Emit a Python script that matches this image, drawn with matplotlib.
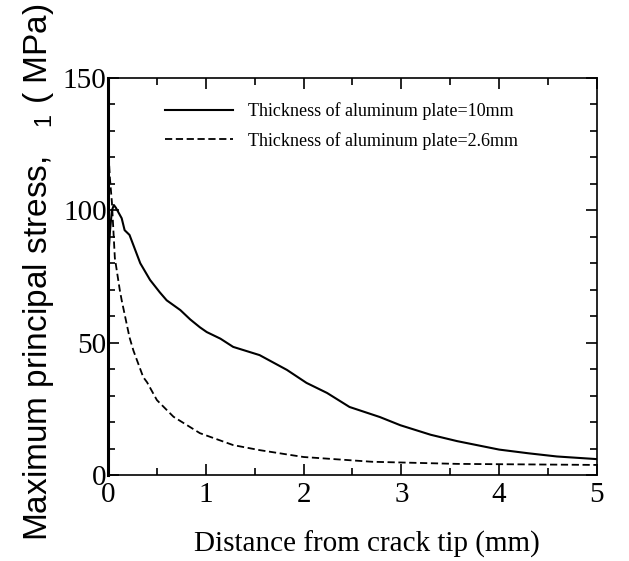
import matplotlib.pyplot as plt
from matplotlib.ticker import MultipleLocator

# distance from crack tip (mm) and stress (MPa)
x_10mm = [0.0, 0.005, 0.02, 0.04, 0.06, 0.08, 0.11, 0.14, 0.17, 0.22, 0.33, 0.43,
          0.53, 0.6, 0.74, 0.84, 0.94, 1.01, 1.15, 1.28, 1.55, 1.83, 2.03,
          2.24, 2.47, 2.78, 2.99, 3.3, 3.57, 4.0, 4.3, 4.59, 5.0]
s_10mm = [150, 83, 92, 100, 102, 101, 99, 97, 92.5, 90.7, 80, 73.7,
          69, 66, 62.3, 58.8, 55.8, 54.0, 51.5, 48.4, 45.3, 39.7, 34.8,
          31.0, 25.7, 21.9, 18.8, 15.2, 12.8, 9.6, 8.2, 7.0, 6.0]

x_26mm = [0.0, 0.02, 0.04, 0.07, 0.12, 0.14, 0.22, 0.26, 0.36, 0.4, 0.5, 0.67,
          0.94, 1.28, 1.55, 1.86, 2.0, 2.7, 3.57, 5.0]
s_26mm = [125, 112, 103, 82, 70, 66, 52, 47, 37, 35, 28.3, 22,
          15.8, 11.3, 9.4, 7.6, 6.8, 5.0, 4.2, 3.8]

plt.rcParams['font.family'] = 'Liberation Serif'
plt.rcParams['mathtext.fontset'] = 'custom'
plt.rcParams['mathtext.rm'] = 'Liberation Sans'

fig = plt.figure(figsize=(6.29, 5.61), dpi=100)
ax = fig.add_axes([0.1717, 0.1533, 0.949 - 0.1717, 0.861 - 0.1533])

ax.plot(x_10mm, s_10mm, color='black', lw=1.5,
        label='Thickness of aluminum plate=10mm')
ax.plot(x_26mm, s_26mm, color='black', lw=1.3, dashes=(4, 2),
        label='Thickness of aluminum plate=2.6mm')

ax.set_xlim(0, 5)
ax.set_ylim(0, 150)
ax.xaxis.set_major_locator(MultipleLocator(1))
ax.xaxis.set_minor_locator(MultipleLocator(0.5))
ax.yaxis.set_major_locator(MultipleLocator(50))
ax.yaxis.set_minor_locator(MultipleLocator(10))
ax.tick_params(which='both', direction='in', top=True, right=True, width=1.2)
ax.tick_params(which='major', length=8, labelsize=21)
ax.tick_params(which='minor', length=5)
ax.tick_params(axis='y', pad=1)
ax.tick_params(axis='x', pad=5)
for sp in ax.spines.values():
    sp.set_linewidth(1.2)
ax.spines['left'].set_linewidth(2.2)

ax.set_xlabel('Distance from crack tip (mm)', fontsize=21)
ax.xaxis.set_label_coords(0.53, -0.14)
ax.set_ylabel('Maximum principal stress,   $_1$ ( MPa)', family='Liberation Sans',
              fontsize=24)
ax.yaxis.set_label_coords(-0.106, 0.51)

ax.legend(loc='upper center', frameon=False, fontsize=13, handlelength=3.8,
          handletextpad=0.8, labelspacing=0.65, bbox_to_anchor=(0.477, 0.98))

plt.savefig('out.png')
